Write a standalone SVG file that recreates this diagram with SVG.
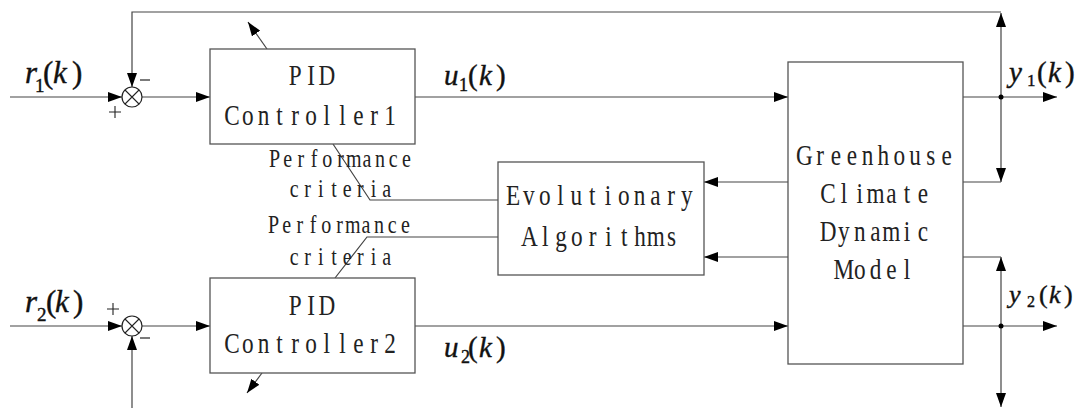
<svg xmlns="http://www.w3.org/2000/svg" width="1080" height="408" viewBox="0 0 1080 408">
<style>
.box{fill:#fff;stroke:#555;stroke-width:1.3}
.ln{fill:none;stroke:#444;stroke-width:1.2}
.mono{font-family:"Liberation Serif","Times New Roman",serif;fill:#222;text-anchor:middle}
.big{font-size:29px}
.small{font-size:25px}
.math{font-family:"Liberation Serif","Times New Roman",serif;fill:#111;stroke:#111;stroke-width:0.4}
.it{font-style:italic}
.sum{fill:#fff;stroke:#222;stroke-width:1.2}
</style>
<defs>
<marker id="ah" viewBox="0 0 14 10" refX="14" refY="5" markerWidth="14" markerHeight="10" markerUnits="userSpaceOnUse" orient="auto-start-reverse">
<path d="M0,0 L14,5 L0,10 z" fill="#000"/>
</marker>
</defs>
<rect width="1080" height="408" fill="#fff"/>

<g id="connectors">
<line class="ln" x1="10" y1="97" x2="122" y2="97" marker-end="url(#ah)"/>
<line class="ln" x1="10" y1="326" x2="122" y2="326" marker-end="url(#ah)"/>
<line class="ln" x1="142" y1="97" x2="210" y2="97" marker-end="url(#ah)"/>
<line class="ln" x1="142" y1="326" x2="210" y2="326" marker-end="url(#ah)"/>
<polyline class="ln" points="1001,12 132,12 132,87" marker-end="url(#ah)"/>
<line class="ln" x1="132" y1="408" x2="132" y2="336" marker-end="url(#ah)"/>
<line class="ln" x1="415" y1="97" x2="788" y2="97" marker-end="url(#ah)"/>
<line class="ln" x1="415" y1="326" x2="788" y2="326" marker-end="url(#ah)"/>
<line class="ln" x1="963" y1="97" x2="1057" y2="97" marker-end="url(#ah)"/>
<line class="ln" x1="963" y1="326" x2="1057" y2="326" marker-end="url(#ah)"/>
<line class="ln" x1="1001" y1="13" x2="1001" y2="182" marker-start="url(#ah)" marker-end="url(#ah)"/>
<line class="ln" x1="963" y1="182" x2="1001" y2="182"/>
<line class="ln" x1="1001" y1="257" x2="1001" y2="407" marker-start="url(#ah)" marker-end="url(#ah)"/>
<line class="ln" x1="963" y1="257" x2="1001" y2="257"/>
<circle cx="1001" cy="97" r="2.5" fill="#000"/>
<circle cx="1001" cy="326" r="2.5" fill="#000"/>
<line class="ln" x1="788" y1="182" x2="704" y2="182" marker-end="url(#ah)"/>
<line class="ln" x1="788" y1="257" x2="704" y2="257" marker-end="url(#ah)"/>
<polyline class="ln" points="333,144 370,200 498,200"/>
<polyline class="ln" points="335,278 367,237 498,237"/>
<line class="ln" x1="267" y1="49" x2="248" y2="22" marker-end="url(#ah)"/>
<line class="ln" x1="262" y1="373" x2="247" y2="393" marker-end="url(#ah)"/>
</g>

<g id="sum1">
<circle class="sum" cx="132" cy="97" r="10"/>
<path d="M125,90 L139,104 M139,90 L125,104" stroke="#222" stroke-width="1.1"/>
<line x1="140" y1="80" x2="150" y2="80" stroke="#222" stroke-width="1.2"/>
<path d="M109,112 L121,112 M115,106 L115,118" stroke="#222" stroke-width="1.1"/>
</g>
<g id="sum2">
<circle class="sum" cx="132" cy="326" r="10"/>
<path d="M125,319 L139,333 M139,319 L125,333" stroke="#222" stroke-width="1.1"/>
<line x1="140" y1="338" x2="150" y2="338" stroke="#222" stroke-width="1.2"/>
<path d="M107,309 L119,309 M113,303 L113,315" stroke="#222" stroke-width="1.1"/>
</g>

<g id="pid1">
<rect class="box" x="210" y="49" width="205" height="95"/>
<text class="mono big" transform="translate(311,85) scale(0.8,1)" x="-19.75 0 19.75" y="0">PID</text>
<text class="mono big" transform="translate(311,125) scale(0.8,1)" x="-98.75 -79 -59.25 -39.5 -19.75 0 19.75 39.5 59.25 79 98.75" y="0">Controller1</text>
</g>
<g id="pid2">
<rect class="box" x="210" y="278" width="205" height="95"/>
<text class="mono big" transform="translate(311,315) scale(0.8,1)" x="-19.75 0 19.75" y="0">PID</text>
<text class="mono big" transform="translate(311,353) scale(0.8,1)" x="-98.75 -79 -59.25 -39.5 -19.75 0 19.75 39.5 59.25 79 98.75" y="0">Controller2</text>
</g>
<g id="evo">
<rect class="box" x="498" y="162" width="206" height="113"/>
<text class="mono big" transform="translate(600,205) scale(0.8,1)" x="-108.625 -88.875 -69.125 -49.375 -29.625 -9.875 9.875 29.625 49.375 69.125 88.875 108.625" y="0">Evolutionary</text>
<text class="mono big" transform="translate(600.5,246) scale(0.8,1)" x="-88.875 -69.125 -49.375 -29.625 -9.875 9.875 29.625 49.375 69.125 88.875" y="0">Algorithms</text>
</g>
<g id="greenhouse">
<rect class="box" x="788" y="62" width="175" height="302"/>
<text class="mono big" transform="translate(875.5,165) scale(0.8,1)" x="-88.875 -69.125 -49.375 -29.625 -9.875 9.875 29.625 49.375 69.125 88.875" y="0">Greenhouse</text>
<text class="mono big" transform="translate(875.5,203) scale(0.8,1)" x="-59.25 -39.5 -19.75 0 19.75 39.5 59.25" y="0">Climate</text>
<text class="mono big" transform="translate(875.5,241) scale(0.8,1)" x="-59.25 -39.5 -19.75 0 19.75 39.5 59.25" y="0">Dynamic</text>
<text class="mono big" transform="translate(875.5,279) scale(0.8,1)" x="-39.5 -19.75 0 19.75 39.5" y="0">Model</text>
</g>
<g id="criteria1">
<text class="mono small" transform="translate(340.5,167) scale(0.8,1)" x="-82.5 -66 -49.5 -33 -16.5 0 16.5 33 49.5 66 82.5" y="0">Performance</text>
<text class="mono small" transform="translate(340.5,197) scale(0.8,1)" x="-57.75 -41.25 -24.75 -8.25 8.25 24.75 41.25 57.75" y="0">criteria</text>
</g>
<g id="criteria2">
<text class="mono small" transform="translate(339.5,233) scale(0.8,1)" x="-82.5 -66 -49.5 -33 -16.5 0 16.5 33 49.5 66 82.5" y="0">Performance</text>
<text class="mono small" transform="translate(340.5,265) scale(0.8,1)" x="-57.75 -41.25 -24.75 -8.25 8.25 24.75 41.25 57.75" y="0">criteria</text>
</g>

<g id="labels" class="math">
<text font-size="31"><tspan class="it" x="25" y="83">r</tspan><tspan x="35" y="92" font-size="19">1</tspan><tspan x="43" y="83">(</tspan><tspan class="it" x="53" y="83">k</tspan><tspan x="72" y="83">)</tspan></text>
<text font-size="31"><tspan class="it" x="25" y="312">r</tspan><tspan x="37" y="321" font-size="19">2</tspan><tspan x="46" y="312">(</tspan><tspan class="it" x="55" y="312">k</tspan><tspan x="73" y="312">)</tspan></text>
<text font-size="29"><tspan class="it" x="444" y="85">u</tspan><tspan x="459" y="91" font-size="18">1</tspan><tspan x="468" y="85">(</tspan><tspan class="it" x="479" y="85">k</tspan><tspan x="496" y="85">)</tspan></text>
<text font-size="29"><tspan class="it" x="444" y="357">u</tspan><tspan x="461" y="363" font-size="18">2</tspan><tspan x="468" y="357">(</tspan><tspan class="it" x="479" y="357">k</tspan><tspan x="496" y="357">)</tspan></text>
<text font-size="29"><tspan class="it" x="1009" y="82">y</tspan><tspan x="1027" y="86" font-size="17">1</tspan><tspan x="1037" y="82">(</tspan><tspan class="it" x="1048" y="82">k</tspan><tspan x="1065" y="82">)</tspan></text>
<text font-size="26"><tspan class="it" x="1009" y="303">y</tspan><tspan x="1027" y="307" font-size="16">2</tspan><tspan x="1039" y="303">(</tspan><tspan class="it" x="1049" y="303">k</tspan><tspan x="1064" y="303">)</tspan></text>
</g>
</svg>
